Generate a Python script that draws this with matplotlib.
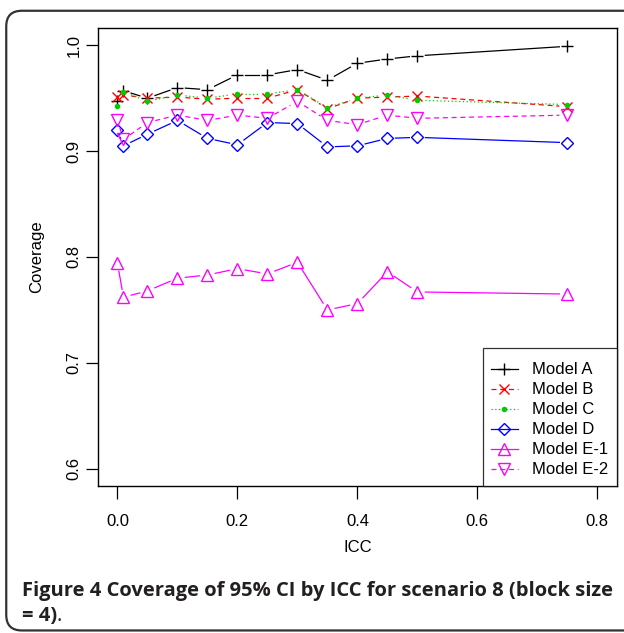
import numpy as np
import matplotlib.pyplot as plt
from matplotlib.patches import FancyBboxPatch
from matplotlib.lines import Line2D

icc = [0, 0.01, 0.05, 0.1, 0.15, 0.2, 0.25, 0.3, 0.35, 0.4, 0.45, 0.5, 0.75]

model_a = [0.947, 0.957, 0.950, 0.960, 0.958, 0.972, 0.972, 0.977, 0.967, 0.983, 0.987, 0.990, 0.999]
model_b = [0.951, 0.953, 0.950, 0.951, 0.949, 0.950, 0.950, 0.958, 0.940, 0.950, 0.951, 0.952, 0.942]
model_c = [0.943, 0.956, 0.947, 0.953, 0.950, 0.954, 0.954, 0.958, 0.941, 0.950, 0.953, 0.948, 0.944]
model_d = [0.920, 0.905, 0.916, 0.929, 0.912, 0.906, 0.927, 0.926, 0.904, 0.905, 0.912, 0.913, 0.908]
model_e1 = [0.794, 0.762, 0.768, 0.780, 0.783, 0.789, 0.784, 0.795, 0.750, 0.756, 0.786, 0.767, 0.765]
model_e2 = [0.929, 0.911, 0.927, 0.934, 0.929, 0.934, 0.931, 0.947, 0.929, 0.925, 0.934, 0.931, 0.934]

labels = ['Model A', 'Model B', 'Model C', 'Model D', 'Model E-1', 'Model E-2']

plt.rcParams['font.family'] = ['Liberation Sans', 'DejaVu Sans']

fig = plt.figure(figsize=(6.24, 6.33), dpi=100)
ax = fig.add_axes([0.1575, 0.2327, 0.8305, 0.7226])
ax.set_xlim(-0.032, 0.832)
ax.set_ylim(0.584, 1.016)

styles = [
    dict(color='black', linestyle='solid', marker='+', ms=9, mfc='black'),
    dict(color='#FF0000', linestyle=(0, (4, 3)), marker='x', ms=6.5, mfc='#FF0000'),
    dict(color='#00CD00', linestyle=(0, (1, 2)), marker='o', ms=4, mfc='#00CD00'),
    dict(color='#0000FF', linestyle='solid', marker='D', ms=6.2, mfc='none'),
    dict(color='#FF00FF', linestyle='solid', marker='^', ms=8, mfc='none'),
    dict(color='#FF00FF', linestyle=(0, (4, 3)), marker='v', ms=8, mfc='none'),
]
series = [model_a, model_b, model_c, model_d, model_e1, model_e2]


def plot_b(x, y, st, gap=8.0):
    # like R's type="b": lines stop short of each point
    pts = ax.transData.transform(np.column_stack([x, y]))
    inv = ax.transData.inverted()
    for p0, p1 in zip(pts[:-1], pts[1:]):
        d = p1 - p0
        n = np.hypot(*d)
        if n <= 2 * gap:
            continue
        u = d / n
        seg = inv.transform(np.array([p0 + u * gap, p1 - u * gap]))
        ax.plot(seg[:, 0], seg[:, 1], color=st['color'], linestyle=st['linestyle'], lw=0.9)
    ax.plot(x, y, linestyle='none', marker=st['marker'], ms=st['ms'], color=st['color'],
            mfc=st['mfc'], mew=1.0 if st['marker'] != 'o' else 0)


handles = []
for y, st, lab in zip(series, styles, labels):
    plot_b(icc, y, st)
    handles.append(Line2D([], [], color=st['color'], linestyle=st['linestyle'], lw=0.9,
                          marker=st['marker'], ms=st['ms'], mfc=st['mfc'],
                          mew=1.0 if st['marker'] != 'o' else 0, label=lab))

ax.set_xticks([0.0, 0.2, 0.4, 0.6, 0.8])
ax.set_xticklabels(['0.0', '0.2', '0.4', '0.6', '0.8'])
ax.set_yticks([0.6, 0.7, 0.8, 0.9, 1.0])
ax.set_yticklabels(['0.6', '0.7', '0.8', '0.9', '1.0'], rotation=90, va='center')
ax.tick_params(direction='out', length=9, width=0.9, labelsize=12)
ax.tick_params(axis='x', pad=11.5)
ax.tick_params(axis='y', pad=3)
for s in ax.spines.values():
    s.set_linewidth(1.0)

ax.set_xlabel('ICC', fontsize=12, labelpad=8)
ax.set_ylabel('Coverage', fontsize=12, labelpad=16)

# tiny blank title only adds a little room above the first entry (R legend spacing)
leg = ax.legend(handles=handles, loc='lower right', fontsize=12, frameon=True, fancybox=False,
                edgecolor='black', borderaxespad=0, handlelength=1.6,
                labelspacing=0.3, borderpad=0.5, handletextpad=0.85,
                title=' ', title_fontsize=1)
leg.get_frame().set_linewidth(0.9)

# rounded border around the figure
border = FancyBboxPatch((0.010, 0.004), 1.1, 0.979, boxstyle='round,pad=0,rounding_size=0.025',
                        transform=fig.transFigure, fill=False, edgecolor='#333333', lw=1.6,
                        mutation_aspect=624 / 633)
fig.patches.append(border)

cap_font = ['Open Sans', 'DejaVu Sans']
fig.text(0.035, 0.0585, 'Figure 4 Coverage of 95% CI by ICC for scenario 8 (block size',
         family=cap_font, fontweight='bold', fontsize=14.5, color='#231f20')
t2 = fig.text(0.035, 0.019, '= 4)', family=cap_font, fontweight='bold',
              fontsize=14.5, color='#231f20')
ax.annotate('.', xy=(1, 0), xycoords=t2, va='bottom', ha='left', family=cap_font,
            fontsize=14.5, color='#231f20', annotation_clip=False)

fig.savefig('out.png', dpi=100)
